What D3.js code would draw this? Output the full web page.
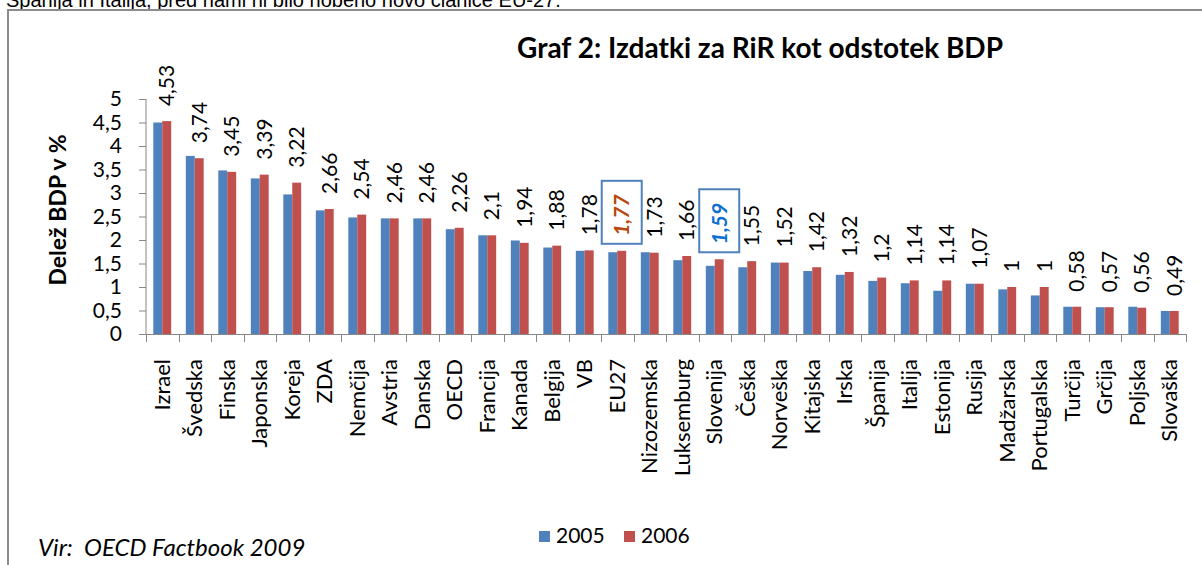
<!DOCTYPE html>
<html>
<head>
<meta charset="utf-8">
<script src="https://cdn.jsdelivr.net/npm/d3@7"></script>
<style>
  body { margin: 0; background: #fff; }
  svg { display: block; font-family: Lato, "Open Sans", sans-serif; }
</style>
</head>
<body>
<div id="graf"></div>
<script>
// data
var countries = ["Izrael", "Švedska", "Finska", "Japonska", "Koreja", "ZDA", "Nemčija", "Avstria",
    "Danska", "OECD", "Francija", "Kanada", "Belgija", "VB", "EU27", "Nizozemska", "Luksemburg",
    "Slovenija", "Češka", "Norveška", "Kitajska", "Irska", "Španija", "Italija", "Estonija", "Rusija",
    "Madžarska", "Portugalska", "Turčija", "Grčija", "Poljska", "Slovaška"];
var values2005 = [4.50, 3.79, 3.48, 3.31, 2.97, 2.63, 2.48, 2.46, 2.46, 2.23, 2.10, 1.99, 1.84, 1.77,
    1.74, 1.74, 1.57, 1.45, 1.42, 1.52, 1.34, 1.26, 1.13, 1.08, 0.92, 1.07, 0.95, 0.82, 0.58, 0.57, 0.58, 0.49];
var values2006 = [4.53, 3.74, 3.45, 3.39, 3.22, 2.66, 2.54, 2.46, 2.46, 2.26, 2.1, 1.94, 1.88, 1.78,
    1.77, 1.73, 1.66, 1.59, 1.55, 1.52, 1.42, 1.32, 1.2, 1.14, 1.14, 1.07, 1, 1, 0.58, 0.57, 0.56, 0.49];
var years = ["2005", "2006"];
var yTicks = [0, 0.5, 1, 1.5, 2, 2.5, 3, 3.5, 4, 4.5, 5];
var highlighted = {"EU27": "#b9480f", "Slovenija": "#0a6fd0"};

var width = 1202, height = 565;
var colors = {"2005": "#4f81bd", "2006": "#c0504d"};
var fmt = function (v) { return String(v).replace(".", ","); };

var svg = d3.select("#graf").append("svg")
    .attr("width", width)
    .attr("height", height);

// text of the document above the chart (cut off in the original too)
svg.append("text")
    .attr("x", 6)
    .attr("y", 7)
    .style("font-family", "'Liberation Sans', Arial, sans-serif")
    .style("font-size", "20px")
    .text("Španija in Italija, pred nami ni bilo nobeno novo članice EU-27.");

// chart frame
svg.append("path")
    .attr("d", "M8," + height + "V10H" + width)
    .attr("fill", "none")
    .attr("stroke", "#8c8c8c")
    .attr("stroke-width", 2);

// scales
var x0 = d3.scaleBand()
    .domain(countries)
    .range([146, 1186])
    .paddingInner(0.45)
    .paddingOuter(0.225);

var x1 = d3.scaleBand()
    .domain(years)
    .range([0, x0.bandwidth()]);

var y = d3.scaleLinear()
    .domain([0, 5])
    .range([334, 99]);

var rows = countries.map(function (c, i) {
    return {name: c, "2005": values2005[i], "2006": values2006[i]};
});

// y axis
var yAxis = svg.append("g")
    .attr("transform", "translate(146,0)")
    .call(d3.axisLeft(y).tickValues(yTicks).tickSize(7).tickPadding(17).tickFormat(fmt));
yAxis.selectAll("line, path").attr("stroke", "#868686");
yAxis.selectAll("text")
    .style("font-family", "Lato, sans-serif")
    .style("font-size", "21px")
    .attr("fill", "#000");
yAxis.select(".domain").attr("d", "M0," + y(5) + "V" + y(0));

// x axis with category names
var xAxis = svg.append("g")
    .attr("transform", "translate(0," + y(0) + ")")
    .call(d3.axisBottom(x0).tickSize(0).tickPadding(0));
xAxis.select(".domain").attr("stroke", "#868686").attr("d", "M146,0.5H1186");
xAxis.selectAll("text")
    .attr("transform", "rotate(-90)")
    .attr("x", -25)
    .attr("y", 0)
    .attr("dy", "0.35em")
    .attr("text-anchor", "end")
    .style("font-family", "Lato, sans-serif")
    .style("font-size", "22px")
    .attr("fill", "#000");

// tick marks between categories
var bounds = d3.range(countries.length + 1).map(function (i) { return x0.range()[0] + i * x0.step(); });
xAxis.selectAll(".bound")
    .data(bounds)
    .enter().append("line")
    .attr("class", "bound")
    .attr("x1", function (d) { return Math.round(d) + 0.5; })
    .attr("x2", function (d) { return Math.round(d) + 0.5; })
    .attr("y1", 0)
    .attr("y2", 8)
    .attr("stroke", "#868686");

// bars
var groups = svg.append("g")
    .selectAll("g")
    .data(rows)
    .enter().append("g")
    .attr("transform", function (d) { return "translate(" + x0(d.name) + ",0)"; });

groups.selectAll("rect")
    .data(function (d) { return years.map(function (k) { return {key: k, value: d[k]}; }); })
    .enter().append("rect")
    .attr("x", function (d) { return x1(d.key); })
    .attr("y", function (d) { return y(d.value); })
    .attr("width", x1.bandwidth())
    .attr("height", function (d) { return y(0) - y(d.value); })
    .attr("fill", function (d) { return colors[d.key]; });

// boxes round the highlighted labels
groups.filter(function (d) { return highlighted[d.name]; })
    .append("rect")
    .attr("x", x1("2006") + x1.bandwidth() / 2 - 20)
    .attr("y", function (d) { return y(d["2006"]) - 70; })
    .attr("width", 40)
    .attr("height", 63)
    .attr("fill", "#fff")
    .attr("stroke", "#4f81bd")
    .attr("stroke-width", 2);

// value labels (2006)
groups.append("text")
    .attr("transform", function (d) {
        return "translate(" + (x1("2006") + x1.bandwidth() / 2) + "," + (y(d["2006"]) - 15) + ") rotate(-90)";
    })
    .attr("dy", "0.35em")
    .attr("text-anchor", "start")
    .style("font-size", "21px")
    .style("font-weight", function (d) { return highlighted[d.name] ? "bold" : null; })
    .style("font-style", function (d) { return highlighted[d.name] ? "italic" : null; })
    .attr("fill", function (d) { return highlighted[d.name] || "#000"; })
    .text(function (d) { return fmt(d["2006"]); });

// title
svg.append("text")
    .attr("x", 760)
    .attr("y", 58)
    .attr("text-anchor", "middle")
    .style("font-size", "28px")
    .style("font-weight", "bold")
    .text("Graf 2: Izdatki za RiR kot odstotek BDP");

// y axis title
svg.append("text")
    .attr("transform", "translate(58,210) rotate(-90)")
    .attr("dy", "0.35em")
    .attr("text-anchor", "middle")
    .style("font-size", "23px")
    .style("font-weight", "bold")
    .text("Delež BDP v %");

// legend
var legend = svg.append("g")
    .selectAll("g")
    .data(years)
    .enter().append("g")
    .attr("transform", function (d, i) { return "translate(" + (539 + i * 85) + ",531)"; });
legend.append("rect")
    .attr("width", 11)
    .attr("height", 11)
    .attr("fill", function (d) { return colors[d]; });
legend.append("text")
    .attr("x", 17)
    .attr("y", 12)
    .style("font-size", "21px")
    .text(function (d) { return d; });

// source
svg.append("text")
    .attr("x", 38)
    .attr("y", 556)
    .attr("xml:space", "preserve")
    .style("white-space", "pre")
    .style("font-size", "24px")
    .style("font-style", "italic")
    .text("Vir:  OECD Factbook 2009");
</script>
</body>
</html>
